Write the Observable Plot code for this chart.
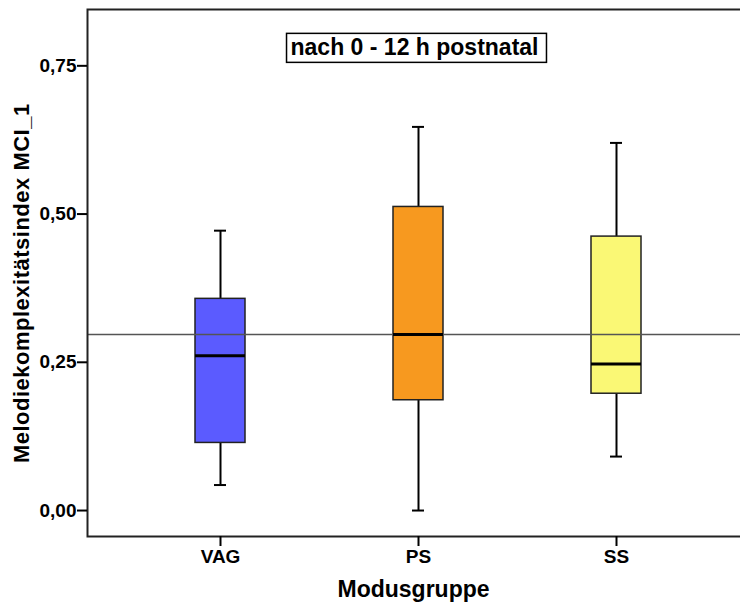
<!DOCTYPE html>
<html><head><meta charset="utf-8">
<script src="https://cdn.jsdelivr.net/npm/d3@7"></script>
<script src="https://cdn.jsdelivr.net/npm/@observablehq/plot@0.6"></script>
<style>
body{margin:0;background:#fff;overflow:hidden}
.y-label text{letter-spacing:0.5px}
</style>
</head><body><div id="chart"></div>
<script>
const groups = ["VAG", "PS", "SS"];
const whiskerLow  = [0.043, 0.000, 0.091];
const q1          = [0.114, 0.186, 0.197];
const median      = [0.261, 0.297, 0.247];
const q3          = [0.357, 0.512, 0.462];
const whiskerHigh = [0.472, 0.647, 0.620];
const fills = ["#5b5bff", "#f7991f", "#faf875"];
const referenceValue = 0.297;
const yTicks = [0, 0.25, 0.5, 0.75];
const titleText = "nach 0 - 12 h postnatal";
const xLabel = "Modusgruppe";
const yLabel = "Melodiekomplexitätsindex MCI_1";

const data = groups.map((g, i) => ({
  group: g, lo: whiskerLow[i], q1: q1[i], med: median[i], q3: q3[i], hi: whiskerHigh[i], fill: fills[i]
}));
const fmt = v => d3.format(".2f")(v).replace(".", ",");
const font = "'Liberation Sans', Arial, sans-serif";

const plot = Plot.plot({
  width: 740, height: 608,
  marginLeft: 87, marginRight: -3, marginTop: 9, marginBottom: 72,
  style: {fontFamily: font, fontWeight: "bold", background: "#fff", overflow: "visible"},
  x: {domain: groups, range: [120, 716], paddingInner: 0.75, paddingOuter: 0.375, align: 0.5},
  y: {domain: [-0.0438, 0.845]},
  color: {type: "identity"},
  marks: [
    Plot.ruleX(data, {x: "group", y1: "lo", y2: "q1", stroke: "#000", strokeWidth: 2}),
    Plot.ruleX(data, {x: "group", y1: "q3", y2: "hi", stroke: "#000", strokeWidth: 2}),
    Plot.tickY(data, {x: "group", y: "lo", insetLeft: 19, insetRight: 19, stroke: "#000", strokeWidth: 2}),
    Plot.tickY(data, {x: "group", y: "hi", insetLeft: 19, insetRight: 19, stroke: "#000", strokeWidth: 2}),
    Plot.barY(data, {x: "group", y1: "q1", y2: "q3", fill: "fill", stroke: "#222", strokeWidth: 1.5}),
    Plot.ruleY([referenceValue], {stroke: "#555", strokeWidth: 1.5}),
    Plot.tickY(data, {x: "group", y: "med", stroke: "#000", strokeWidth: 3}),
    Plot.frame({stroke: "#222", strokeWidth: 2}),
    Plot.axisY({ticks: yTicks, tickFormat: fmt, tickSize: 10, tickPadding: 1, fontSize: 19, strokeWidth: 2, label: null}),
    Plot.axisX({tickSize: 10, tickPadding: 3, fontSize: 19, strokeWidth: 2, label: null}),
    Plot.text([xLabel], {frameAnchor: "bottom", dy: 53, dx: -2, fontSize: 23, lineAnchor: "middle", fill: "#000"}),
    Plot.text([yLabel], {frameAnchor: "left", textAnchor: "middle", rotate: -90, dx: -65.7, dy: 10.2, fontSize: 22, lineAnchor: "middle", fill: "#000", className: "y-label"}),
    Plot.text([titleText], {frameAnchor: "top", dx: -1, dy: 38.5, fontSize: 23, lineAnchor: "middle", fill: "#000", className: "title-text"})
  ]
});
document.getElementById("chart").appendChild(plot);

// box around the title, sized from the rendered text
const t = plot.querySelector(".title-text text");
if (t) {
  const b = t.getBBox();
  const g = t.parentNode;
  const r = document.createElementNS("http://www.w3.org/2000/svg", "rect");
  if (t.getAttribute("transform")) r.setAttribute("transform", t.getAttribute("transform"));
  r.setAttribute("x", b.x - 4);
  r.setAttribute("y", b.y - 1);
  r.setAttribute("width", b.width + 12);
  r.setAttribute("height", b.height + 3);
  r.setAttribute("fill", "#fff");
  r.setAttribute("stroke", "#000");
  r.setAttribute("stroke-width", 1.5);
  g.insertBefore(r, t);
}
</script>
</body></html>
